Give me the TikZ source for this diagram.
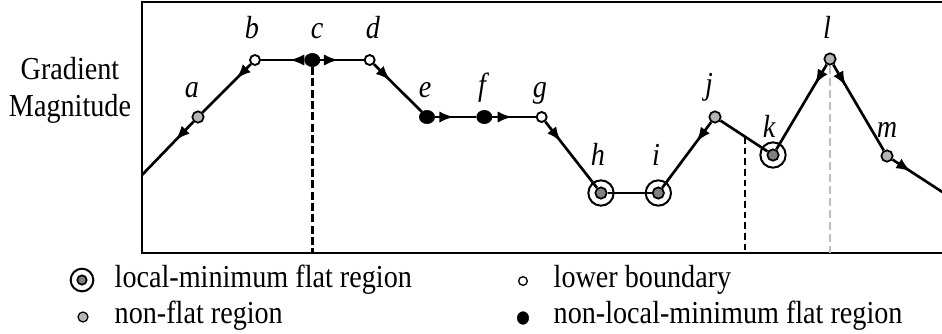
\documentclass[tikz,border=0pt]{standalone}
\usepackage{fontspec}
\setmainfont{Liberation Serif}[FakeStretch=0.88]
\usetikzlibrary{arrows.meta,decorations.markings,positioning,shapes.geometric}

\definecolor{slopegray}{RGB}{180,180,180}
\definecolor{basingray}{RGB}{128,128,128}
\definecolor{guidegray}{RGB}{190,190,190}

\begin{document}
\begin{tikzpicture}[x=0.75pt, y=-0.75pt, node distance=43pt,
        lower/.style = {draw, circle, fill=white, line width=1.4pt, inner sep=0pt, minimum size=7.5pt},
        nonmin/.style = {draw, ellipse, fill=black, inner sep=0pt, minimum width=11.5pt, minimum height=10pt},
        nonflat/.style = {draw, circle, fill=slopegray, line width=1.3pt, inner sep=0pt, minimum size=8.5pt},
        localmin/.style = {draw, circle, fill=basingray, line width=1.3pt, inner sep=0pt, minimum size=8.5pt},
        ring/.style = {draw, circle, line width=1.5pt, inner sep=0pt, minimum size=19pt},
        curve/.style = {line width=2pt},
        flow/.style = {curve, postaction={decorate},
            decoration={markings, mark=at position #1 with {\arrow{Latex[length=11pt,width=8.5pt]}}}},
        tag/.style = {anchor=base, font=\fontsize{24}{28}\selectfont\itshape},
        legend/.style = {anchor=base west, font=\fontsize{24}{28}\selectfont}]
        \useasboundingbox (0,0) rectangle (942,333);

        % frame
        \draw[line width=1.6pt] (946,2) -- (142,2) -- (142,253) -- (946,253);
        \node[anchor=base, align=center, font=\fontsize{24}{27.75}\selectfont] (axis) at (70,116) {Gradient\\Magnitude};

        \coordinate (start) at (142,175);
        \coordinate (finish) at (950,197);
        \coordinate (floor) at (142,253);
        \coordinate (jk) at (745,137);

        \node[nonflat] (a) at (198,117) {};
        \node[lower] (b) at (255,60) {};
        \node[nonmin] (c) [right of=b] {};
        \node[lower] (d) [right of=c] {};
        \node[nonmin] (e) at (427,117) {};
        \node[nonmin] (f) [right of=e] {};
        \node[lower] (g) [right of=f] {};
        \node[localmin] (h) at (601,193) {};
        \node[localmin] (i) [right of=h] {};
        \node[nonflat] (j) at (715,117) {};
        \node[localmin] (k) at (773,155) {};
        \node[nonflat] (l) at (830,59) {};
        \node[nonflat] (m) at (887,156) {};
        \node[ring] (hring) at (h) {};
        \node[ring] (iring) at (i) {};
        \node[ring] (kring) at (k) {};

        % guides
        \draw[line width=2.6pt, dash pattern=on 6pt off 2.5pt] (c.south) -- (c |- floor);
        \draw[line width=1pt, dash pattern=on 5pt off 3pt] (jk) -- (jk |- floor);
        \draw[guidegray, line width=0.9pt, dash pattern=on 6pt off 3pt] (l.south) -- (l |- floor);

        \draw[flow=0.35] (a) -- (start);
        \draw[flow=0.3] (b) -- (a);
        \draw[flow=0.34] (c) -- (b);
        \draw[flow=0.42] (c) -- (d);
        \draw[flow=0.34] (d) -- (e);
        \draw[flow=0.46] (e) -- (f);
        \draw[flow=0.46] (f) -- (g);
        \draw[flow=0.3] (g) -- (h);
        \draw[curve] (h) -- (i);
        \draw[flow=0.3] (j) -- (i);
        \draw[curve] (j) -- (k);
        \draw[flow=0.23] (l) -- (k);
        \draw[flow=0.25] (l) -- (m);
        \draw[flow=0.32] (m) -- (finish);

        \node[tag] (la) at (192,97) {a};
        \node[tag] (lb) at (252,38) {b};
        \node[tag] (lc) at (317,38) {c};
        \node[tag] (ld) at (373,38) {d};
        \node[tag] (le) at (425,97) {e};
        \node[tag] (lf) at (482,95) {f};
        \node[tag] (lg) at (540,97) {g};
        \node[tag] (lh) at (598,165) {h};
        \node[tag] (li) at (656,165) {i};
        \node[tag] (lj) at (709,94) {j};
        \node[tag] (lk) at (769,137) {k};
        \node[tag] (ll) at (827,38) {l};
        \node[tag] (lm) at (887,137) {m};

        % legend
        \node[localmin, minimum size=7pt] (keybasin) at (82,280) {};
        \node[ring, minimum size=17pt] (keyring) at (keybasin) {};
        \node[nonflat, minimum size=7.5pt, line width=0.9pt] (keyslope) at (83,317) {};
        \node[lower, minimum size=6.5pt, line width=1pt] (keyedge) at (523,281) {};
        \node[nonmin, minimum width=8.5pt, minimum height=9.5pt] (keyflat) at (523,318) {};
        \node[legend] (basintext) at (110,287) {local-minimum flat region};
        \node[legend] (slopetext) at (110,323) {non-flat region};
        \node[legend] (edgetext) at (549,287) {lower boundary};
        \node[legend] (flattext) at (549,323) {non-local-minimum flat region};
\end{tikzpicture}
\end{document}
